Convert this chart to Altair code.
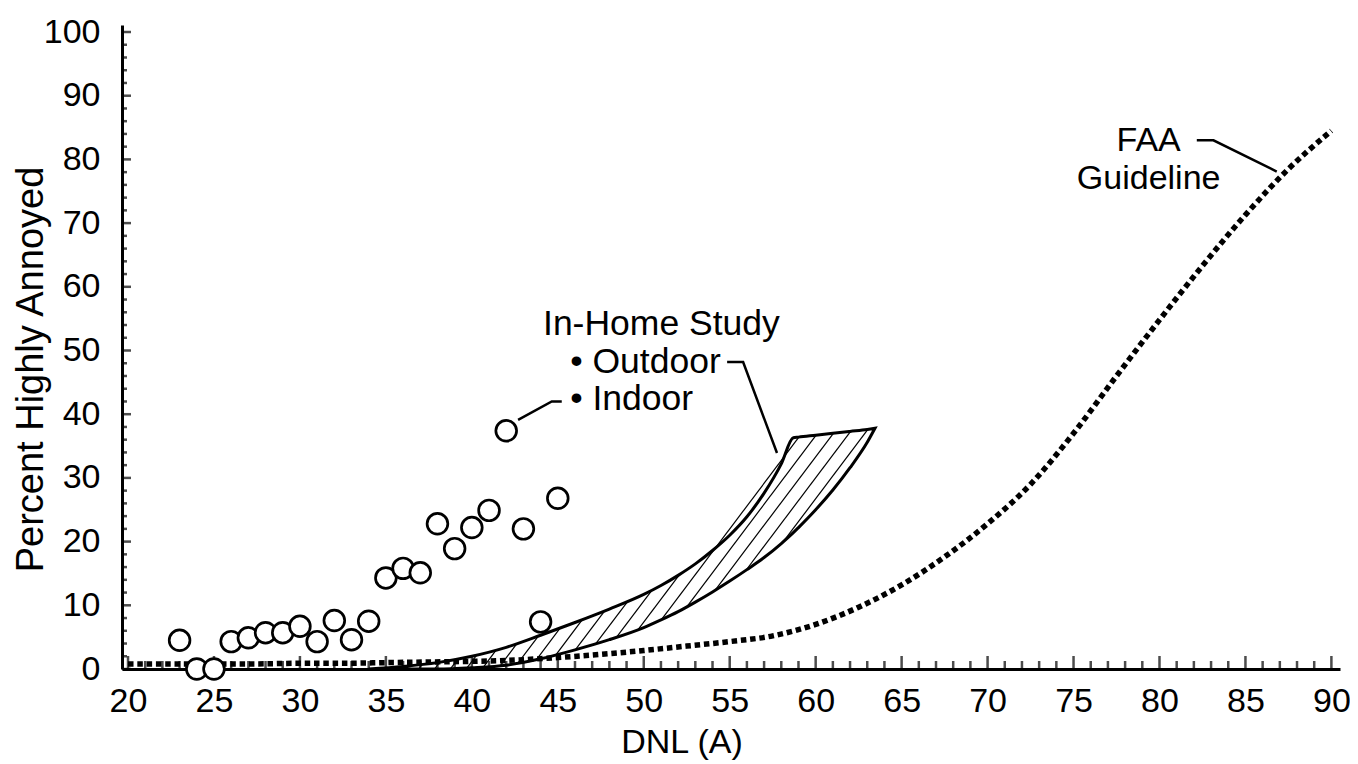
import altair as alt
import pandas as pd
import numpy as np

# ---------------- data ----------------
# In-Home Study survey points
pt_dnl = [23, 24, 25, 26, 27, 28, 29, 30, 31, 32, 33, 34, 35, 36, 37, 38, 39, 40, 41, 42, 43, 44, 45]
pt_pha = [4.5, 0.0, 0.0, 4.3, 4.9, 5.7, 5.7, 6.7, 4.3, 7.6, 4.6, 7.5, 14.3, 15.8, 15.1, 22.8, 18.9, 22.2, 24.9, 37.4, 22.0, 7.4, 26.8]

# FAA guideline (dotted curve)
faa_dnl = [20, 22.5, 25, 27.5, 30, 32.5, 35, 37.5, 40, 42.5, 45, 47.5, 50, 52.5, 55, 57.5, 60, 62.5, 65, 67.5, 70, 72.5, 75, 77.5, 80, 82.5, 85, 87.5, 90]
faa_pha = [0.8, 0.8, 0.8, 0.8, 0.9, 0.9, 1.0, 1.1, 1.2, 1.4, 1.8, 2.3, 2.9, 3.6, 4.3, 5.2, 7.0, 9.7, 13.2, 17.6, 22.8, 29.0, 37.0, 46.0, 54.8, 63.3, 71.3, 78.5, 84.5]

# In-Home Study outdoor/indoor band (hatched)
band_dnl = [34, 36, 38, 40, 42, 44, 46, 48, 50, 51, 52, 53, 54, 55, 56, 57, 58, 58.7, 59, 60, 61, 62, 63, 63.45]
band_upper = [0, 0.4, 1.0, 2.0, 3.4, 5.3, 7.3, 9.4, 11.7, 13.1, 14.7, 16.5, 18.6, 21.0, 23.9, 27.6, 32.2, 36.3, 36.4, 36.7, 37.0, 37.3, 37.6, 37.8]
band_lower = [0, 0, 0, 0.2, 0.6, 1.6, 3.0, 4.6, 6.5, 7.7, 9.0, 10.5, 12.1, 13.8, 15.6, 17.5, 19.7, 21.4, 22.2, 25.0, 28.1, 31.6, 35.6, 37.8]

# axis ticks
x_major = list(range(20, 91, 5))
x_minor = [v for v in range(20, 91) if v % 5]
y_major = list(range(0, 101, 10))
y_minor = [v for v in range(0, 101, 2) if v % 10]

# annotations
ann_left_text = ["In-Home Study", "\u2022 Outdoor", "\u2022 Indoor"]
ann_left_x = [44.14, 45.72, 45.72]
ann_left_y = [52.4, 46.5, 40.7]
ann_center_text = ["FAA", "Guideline"]
ann_center_x = [79.37, 79.37]
ann_center_y = [81.3, 75.3]

leader_grp = ["out", "out", "out", "in", "in", "in", "faa", "faa", "faa"]
leader_x = [54.85, 55.78, 57.75, 42.69, 44.65, 45.23, 82.17, 83.14, 86.82]
leader_y = [48.2, 48.2, 33.9, 39.1, 42.0, 42.0, 83.0, 83.0, 78.1]

# ---------------- layout ----------------
X_MIN, X_MAX = 19.65, 90.5
Y_MIN, Y_MAX = 0, 101.1
W, H = 1218, 644
FONT = "Liberation Sans"

xs = alt.Scale(domain=[X_MIN, X_MAX], nice=False, zero=False)
ys = alt.Scale(domain=[Y_MIN, Y_MAX], nice=False, zero=False)

# hatch lines derived from band boundaries
sx = W / (X_MAX - X_MIN)
sy = H / (Y_MAX - Y_MIN)
slope = np.tan(np.radians(53)) * sx / sy  # data-space dy/dx
spacing = 15.8 / sx
c0 = 48.86
bx = np.array(band_dnl); bu = np.array(band_upper); bl = np.array(band_lower)
segs = []
yy = np.linspace(0, bu.max(), 3000)
for k in range(-40, 40):
    c = c0 + k * spacing
    xx = c + yy / slope
    ok = (xx >= bx[0]) & (xx <= bx[-1])
    lo = np.interp(xx, bx, bl)
    hi = np.interp(xx, bx, bu)
    inside = ok & (yy >= lo) & (yy <= hi)
    if inside.sum() > 2:
        idx = np.where(inside)[0]
        segs.append({"x1": xx[idx[0]], "y1": yy[idx[0]], "x2": xx[idx[-1]], "y2": yy[idx[-1]]})
hatch_df = pd.DataFrame(segs)

pts_df = pd.DataFrame({"dnl": pt_dnl, "pha": pt_pha})
faa_df = pd.DataFrame({"dnl": faa_dnl, "pha": faa_pha})
band_df = pd.DataFrame({"dnl": band_dnl, "upper": band_upper, "lower": band_lower})
xmaj_df = pd.DataFrame({"v": x_major})
xmin_df = pd.DataFrame({"v": x_minor})
ymaj_df = pd.DataFrame({"v": y_major})
ymin_df = pd.DataFrame({"v": y_minor})
annl_df = pd.DataFrame({"t": ann_left_text, "x": ann_left_x, "y": ann_left_y})
annc_df = pd.DataFrame({"t": ann_center_text, "x": ann_center_x, "y": ann_center_y})
lead_df = pd.DataFrame({"g": leader_grp, "x": leader_x, "y": leader_y, "o": list(range(len(leader_x)))})

x_axis = alt.Axis(values=x_major, ticks=False, grid=False, domainWidth=3, domainColor="black",
                  labelFont=FONT, labelFontSize=34, labelColor="black", labelPadding=15,
                  labelFlush=False, format="d", title="DNL (A)", titleFont=FONT, titleFontSize=34,
                  titleFontWeight="normal", titleColor="black", titleX=559.5, titleY=73,
                  titleBaseline="middle", zindex=0)
y_axis = alt.Axis(values=y_major, ticks=False, grid=False, domainWidth=3, domainColor="black",
                  labelFont=FONT, labelFontSize=34, labelColor="black", labelPadding=22,
                  labelFlush=False, format="d", title="Percent Highly Annoyed", titleFont=FONT,
                  titleFontSize=38, titleFontWeight="normal", titleColor="black", titleX=-91,
                  titleY=344, titleBaseline="middle", zindex=0)

band = alt.Chart(band_df).mark_area(fill="white", fillOpacity=0, stroke="black", strokeWidth=3,
                                    interpolate="monotone").encode(
    x=alt.X("dnl:Q", scale=xs, axis=x_axis),
    y=alt.Y("upper:Q", scale=ys, axis=y_axis),
    y2="lower:Q",
)

hatch = alt.Chart(hatch_df).mark_rule(color="black", strokeWidth=1.2).encode(
    x=alt.X("x1:Q", scale=xs), y=alt.Y("y1:Q", scale=ys), x2="x2:Q", y2="y2:Q")

faa = alt.Chart(faa_df).mark_line(color="black", strokeWidth=5.5, strokeDash=[5.5, 3.8],
                                  strokeCap="butt", interpolate="monotone").encode(
    x=alt.X("dnl:Q", scale=xs), y=alt.Y("pha:Q", scale=ys))

xt_major = alt.Chart(xmaj_df).mark_tick(orient="vertical", size=13, thickness=2.5, yOffset=-6.5,
                                        color="black").encode(
    x=alt.X("v:Q", scale=xs), y=alt.Y(datum=0, type="quantitative", scale=ys))
xt_minor = alt.Chart(xmin_df).mark_tick(orient="vertical", size=8, thickness=2.5, yOffset=-4,
                                        color="black").encode(
    x=alt.X("v:Q", scale=xs), y=alt.Y(datum=0, type="quantitative", scale=ys))
yt_major = alt.Chart(ymaj_df).mark_tick(orient="horizontal", size=9, thickness=2.5, xOffset=4.5,
                                        color="black").encode(
    y=alt.Y("v:Q", scale=ys), x=alt.X(datum=X_MIN, type="quantitative", scale=xs))
yt_minor = alt.Chart(ymin_df).mark_tick(orient="horizontal", size=5, thickness=2.5, xOffset=2.5,
                                        color="black").encode(
    y=alt.Y("v:Q", scale=ys), x=alt.X(datum=X_MIN, type="quantitative", scale=xs))

leaders = alt.Chart(lead_df).mark_line(color="black", strokeWidth=2.5).encode(
    x=alt.X("x:Q", scale=xs), y=alt.Y("y:Q", scale=ys), detail="g:N", order="o:Q")

pts = alt.Chart(pts_df).mark_point(shape="circle", size=430, fill="white", fillOpacity=1,
                                   stroke="black", strokeWidth=2.7, opacity=1).encode(
    x=alt.X("dnl:Q", scale=xs), y=alt.Y("pha:Q", scale=ys))

txt_l = alt.Chart(annl_df).mark_text(align="left", baseline="alphabetic", font=FONT, fontSize=35.5,
                                     color="black").encode(
    x=alt.X("x:Q", scale=xs), y=alt.Y("y:Q", scale=ys), text="t:N")
txt_c = alt.Chart(annc_df).mark_text(align="center", baseline="alphabetic", font=FONT, fontSize=34,
                                     color="black").encode(
    x=alt.X("x:Q", scale=xs), y=alt.Y("y:Q", scale=ys), text="t:N")

chart = alt.layer(band, hatch, faa, xt_minor, xt_major, yt_minor, yt_major, leaders, pts, txt_l, txt_c).properties(
    width=W, height=H,
    autosize=alt.AutoSizeParams(type="none"),
    padding={"left": 114, "top": 17, "right": 10, "bottom": 95},
    background="white",
).configure_view(stroke=None)

chart.save("out.html", embed_options={"renderer": "svg", "actions": False})
